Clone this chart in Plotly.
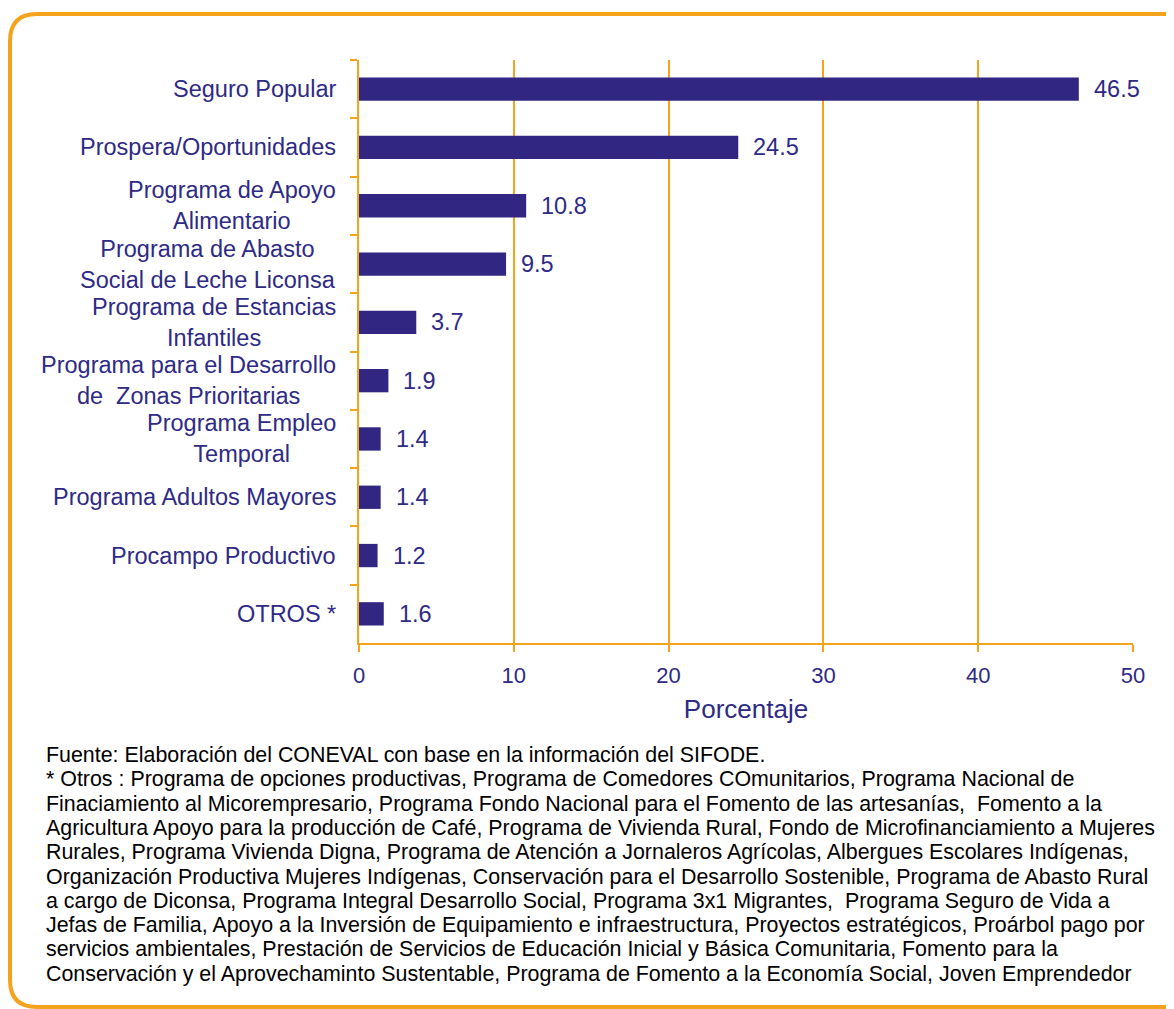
import plotly.graph_objects as go

# ---------------- data ----------------
categories = [
    "Seguro Popular",
    "Prospera/Oportunidades",
    "Programa de Apoyo<br>Alimentario",
    "Programa de Abasto<br>Social de Leche Liconsa",
    "Programa de Estancias<br>Infantiles",
    "Programa para el Desarrollo<br>de\u00a0 Zonas Prioritarias",
    "Programa Empleo<br>Temporal",
    "Programa Adultos Mayores",
    "Procampo Productivo",
    "OTROS *",
]
values = [46.5, 24.5, 10.8, 9.5, 3.7, 1.9, 1.4, 1.4, 1.2, 1.6]
x_ticks = [0, 10, 20, 30, 40, 50]
x_title = "Porcentaje"
footnote_lines = [
    "Fuente: Elaboración del CONEVAL con base en la información del SIFODE.",
    "* Otros : Programa de opciones productivas, Programa de Comedores COmunitarios, Programa Nacional de",
    "Finaciamiento al Micorempresario, Programa Fondo Nacional para el Fomento de las artesanías,\u00a0 Fomento a la",
    "Agricultura Apoyo para la producción de Café, Programa de Vivienda Rural, Fondo de Microfinanciamiento a Mujeres",
    "Rurales, Programa Vivienda Digna, Programa de Atención a Jornaleros Agrícolas, Albergues Escolares Indígenas,",
    "Organización Productiva Mujeres Indígenas, Conservación para el Desarrollo Sostenible, Programa de Abasto Rural",
    "a cargo de Diconsa, Programa Integral Desarrollo Social, Programa 3x1 Migrantes,\u00a0 Programa Seguro de Vida a",
    "Jefas de Familia, Apoyo a la Inversión de Equipamiento e infraestructura, Proyectos estratégicos, Proárbol pago por",
    "servicios ambientales, Prestación de Servicios de Educación Inicial y Básica Comunitaria, Fomento para la",
    "Conservación y el Aprovechaminto Sustentable, Programa de Fomento a la Economía Social, Joven Emprendedor",
]

# ---------------- style ----------------
OFF = 8                      # default page body margin
W, H = 1166, 1001
L, R, T, B = 351, 41, 52, 366
PW, PH = W - L - R, H - T - B
BAR = "#312783"
TXT = "#2E2A85"
ORANGE = "#F5A31C"
FONT = "Liberation Sans, Arial, sans-serif"


def px_x(p):
    return (p - OFF - L) / PW


def px_y(p):
    return (H - B - (p - OFF)) / PH


fig = go.Figure()
fig.add_trace(go.Bar(
    x=values, y=categories, orientation="h",
    marker=dict(color=BAR, line=dict(width=0)),
    width=0.4, hoverinfo="skip",
))

annotations = []
# category labels (centered multi-line blocks, right-aligned next to the axis)
for c in categories:
    annotations.append(dict(
        x=0, xref="paper", y=c, yref="y", xanchor="right", yanchor="middle",
        xshift=-21, text=c, showarrow=False, align="center",
        font=dict(family=FONT, size=23.5, color=TXT),
    ))
# value labels
for c, v in zip(categories, values):
    annotations.append(dict(
        x=v, xref="x", y=c, yref="y", xanchor="left", yanchor="middle",
        xshift=13, text=f"{v:.1f}", showarrow=False,
        font=dict(family=FONT, size=23.5, color=TXT),
    ))
# footnote
y0, dy = 755, 24.3
for i, line in enumerate(footnote_lines):
    annotations.append(dict(
        x=px_x(44), xref="paper", y=px_y(y0 + i * dy), yref="paper",
        xanchor="left", yanchor="middle", text=line, showarrow=False,
        align="left", font=dict(family=FONT, size=21.4, color="#000000"),
    ))

# rounded frame
fl, ft, fr, fb, rad = 10, 14, 1192, 1007, 27
path = (
    f"M {px_x(fl)},{px_y(ft + rad)} "
    f"Q {px_x(fl)},{px_y(ft)} {px_x(fl + rad)},{px_y(ft)} "
    f"L {px_x(fr - rad)},{px_y(ft)} "
    f"Q {px_x(fr)},{px_y(ft)} {px_x(fr)},{px_y(ft + rad)} "
    f"L {px_x(fr)},{px_y(fb - rad)} "
    f"Q {px_x(fr)},{px_y(fb)} {px_x(fr - rad)},{px_y(fb)} "
    f"L {px_x(fl + rad)},{px_y(fb)} "
    f"Q {px_x(fl)},{px_y(fb)} {px_x(fl)},{px_y(fb - rad)} Z"
)

fig.update_layout(
    width=W, height=H,
    margin=dict(l=L, r=R, t=T, b=B, pad=0),
    paper_bgcolor="white", plot_bgcolor="white",
    showlegend=False,
    annotations=annotations,
    shapes=[dict(type="path", path=path, xref="paper", yref="paper",
                 line=dict(color=ORANGE, width=4), layer="below")],
    xaxis=dict(
        range=[0, 50], tickvals=x_ticks, ticktext=[str(t) for t in x_ticks],
        showgrid=True, gridcolor=ORANGE, gridwidth=2,
        showline=True, linecolor=ORANGE, linewidth=2,
        ticks="outside", ticklen=7, tickcolor=ORANGE, tickwidth=2,
        ticklabelstandoff=5,
        zeroline=False,
        tickfont=dict(family=FONT, size=22, color=TXT),
        title=dict(text=x_title, font=dict(family=FONT, size=26, color=TXT), standoff=12),
    ),
    yaxis=dict(
        autorange="reversed", showticklabels=False,
        showline=True, linecolor=ORANGE, linewidth=2,
        ticks="outside", ticklen=7, tickcolor=ORANGE, tickwidth=2,
        tickson="boundaries", showgrid=False, zeroline=False,
    ),
)

fig.write_html("out.html")
